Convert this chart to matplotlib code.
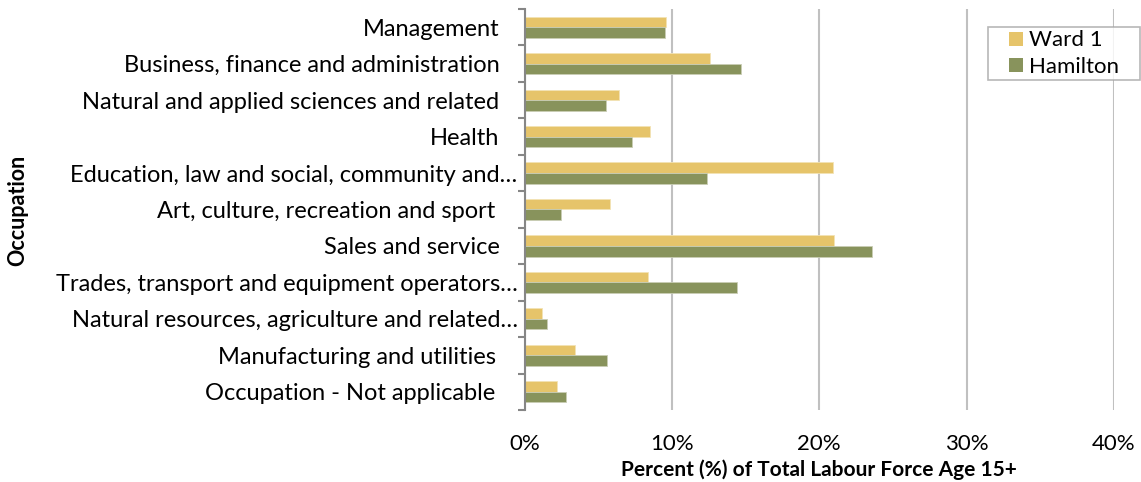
import numpy as np
import matplotlib
matplotlib.use("Agg")
import matplotlib.pyplot as plt
from matplotlib.ticker import FuncFormatter
from matplotlib.transforms import ScaledTranslation
from matplotlib.patches import Rectangle
from matplotlib.legend_handler import HandlerPatch
from matplotlib.container import BarContainer

plt.rcParams['font.family'] = ['Lato', 'DejaVu Sans']

occupations = [
    "Management",
    "Business, finance and administration",
    "Natural and applied sciences and related",
    "Health",
    "Education, law and social, community and\u2026",
    "Art, culture, recreation and sport",
    "Sales and service",
    "Trades, transport and equipment operators\u2026",
    "Natural resources, agriculture and related\u2026",
    "Manufacturing and utilities",
    "Occupation - Not applicable",
]
ward1 = [9.6, 12.6, 6.4, 8.5, 20.9, 5.8, 21.0, 8.4, 1.2, 3.4, 2.2]
hamilton = [9.5, 14.7, 5.5, 7.3, 12.4, 2.5, 23.6, 14.4, 1.5, 5.6, 2.8]
series_names = ["Ward 1", "Hamilton"]

ward_color = "#E6C46A"
ham_color = "#88935C"


def square_patch(legend, orig_handle, xdescent, ydescent, width, height, fontsize):
    # small square sitting at the right end of the handle box, like Excel
    sq = 10
    return Rectangle((-xdescent + width - sq, -ydescent + (height - sq) / 2), sq, sq)


def first_bar_style(legend_handle, orig_handle):
    legend_handle.update_from(orig_handle.patches[0])
    legend_handle.set_edgecolor("none")


fig = plt.figure(figsize=(11.41, 4.82), dpi=100)
ax = fig.add_axes([524.5 / 1141, 1 - 410 / 482, (1114 - 524.5) / 1141, 401 / 482])

y = np.arange(len(occupations))
h = 0.29
b1 = ax.barh(y - h / 2, ward1, height=h, color=ward_color, edgecolor="#F3E3B5",
             linewidth=0.6, zorder=3)
b2 = ax.barh(y + h / 2, hamilton, height=h, color=ham_color, edgecolor="#C9CDB5",
             linewidth=0.6, zorder=3)

ax.set_ylim(len(occupations) - 0.5, -0.5)
ax.set_xlim(0, 40)
ax.set_xticks([0, 10, 20, 30, 40])
ax.xaxis.set_major_formatter(FuncFormatter(lambda v, p: f"{v:.0f}%"))
ax.tick_params(axis="x", length=0, pad=17, labelsize=16)

ax.set_yticks(y)
ax.set_yticks(np.arange(len(occupations) + 1) - 0.5, minor=True)
ax.tick_params(axis="y", which="major", length=0, pad=18, labelsize=17)
ax.tick_params(axis="y", which="minor", length=5, width=1.5, color="#868686",
               direction="out")
ax.set_yticklabels(occupations)

# Excel lets the truncated labels run past the others
shift = ScaledTranslation(18 / 100, 0, fig.dpi_scale_trans)
for lab in ax.get_yticklabels():
    if lab.get_text().endswith("\u2026"):
        lab.set_transform(lab.get_transform() + shift)
    elif lab.get_text() in ("Art, culture, recreation and sport",
                            "Manufacturing and utilities",
                            "Occupation - Not applicable"):
        lab.set_transform(lab.get_transform()
                          + ScaledTranslation(-4 / 100, 0, fig.dpi_scale_trans))

ax.grid(axis="x", color="#C0C0C0", linewidth=1.5, zorder=0)
for s in ["top", "right", "bottom"]:
    ax.spines[s].set_visible(False)
ax.spines["left"].set_color("#868686")
ax.spines["left"].set_linewidth(1.5)
ax.spines["left"].set_zorder(4)

ax.set_xlabel("Percent (%) of Total Labour Force Age 15+", fontsize=15,
              fontweight="bold", labelpad=4)
fig.text(18 / 1141, 1 - 210 / 482, "Occupation", rotation=90, fontsize=15.5,
         fontweight="bold", ha="center", va="center")

leg = ax.legend([b1, b2], [n + "   " for n in series_names],
                loc="upper right", bbox_to_anchor=(1140 / 1141, 1 - 27 / 482),
                bbox_transform=fig.transFigure, fancybox=False, frameon=True,
                edgecolor="#A6A6A6", fontsize=16, handlelength=1.4,
                handleheight=0.7, handletextpad=0.3, borderpad=0.15,
                labelspacing=0.3, borderaxespad=0,
                handler_map={BarContainer: HandlerPatch(patch_func=square_patch,
                                                        update_func=first_bar_style)})
leg.get_frame().set_linewidth(1.2)

fig.savefig("out.png", dpi=100)
